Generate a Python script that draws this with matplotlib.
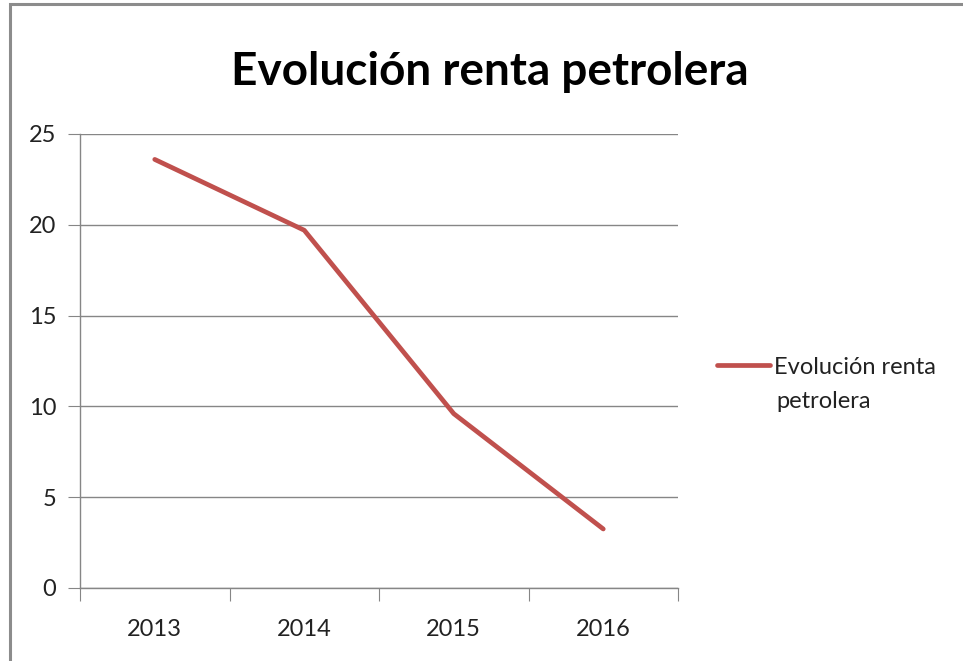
import matplotlib.pyplot as plt
from matplotlib.patches import Rectangle

# Datos
anios = ['2013', '2014', '2015', '2016']
renta = [23.6, 19.7, 9.6, 3.25]
serie_l1 = 'Evolución renta'
serie_l2 = 'petrolera'
titulo = 'Evolución renta petrolera'

plt.rcParams['font.family'] = ['Lato', 'DejaVu Sans']

fig = plt.figure(figsize=(9.63, 6.61), dpi=100)
ax = fig.add_axes([80 / 963, 1 - 588 / 661, 598 / 963, 454 / 661])

# Marco gris del gráfico (solo se ven el borde superior e izquierdo)
fig.patches.append(Rectangle((10 / 963, -0.1), 1.2, 1 - 4 / 661 + 0.1,
                             transform=fig.transFigure, fill=False,
                             edgecolor='#8c8c8c', linewidth=2.2))

x = [i + 0.5 for i in range(len(anios))]
ax.plot(x, renta, color='#C0504D', linewidth=3.4, solid_capstyle='round',
        label=serie_l1)

ax.set_xlim(0, len(anios))
ax.set_ylim(0, 25)
ax.set_yticks([0, 5, 10, 15, 20, 25])
ax.set_xticks(range(len(anios) + 1))
ax.set_xticklabels([])
ax.set_xticks(x, minor=True)
ax.set_xticklabels(anios, minor=True)
ax.tick_params(axis='x', which='minor', length=0, pad=22, labelsize=17,
               labelcolor='#222222')
ax.tick_params(axis='x', which='major', length=9, color='#868686', direction='out')
ax.tick_params(axis='y', length=9, color='#868686', labelsize=17, pad=8,
               labelcolor='#222222')

ax.grid(axis='y', color='#868686', linewidth=1.0)
ax.set_axisbelow(True)
for s in ['top', 'right']:
    ax.spines[s].set_visible(False)
for s in ['left', 'bottom']:
    ax.spines[s].set_color('#868686')
    ax.spines[s].set_linewidth(1.0)

fig.text(490 / 963, 1 - 72 / 661, titulo, ha='center', va='center',
         fontsize=33, fontweight='bold', color='#000000')

# Leyenda: la línea se alinea con la primera línea del texto, como en Excel
leg = ax.legend(loc='center left', bbox_to_anchor=(717 / 963, 1 - 367 / 661),
                bbox_transform=fig.transFigure, frameon=False, fontsize=17,
                handlelength=2.25, handletextpad=0.15, labelcolor='#222222',
                borderaxespad=0, borderpad=0)
fig.text(776 / 963, 1 - 401 / 661, serie_l2, ha='left', va='center',
         fontsize=17, color='#222222')

fig.savefig('out.png', dpi=100)
